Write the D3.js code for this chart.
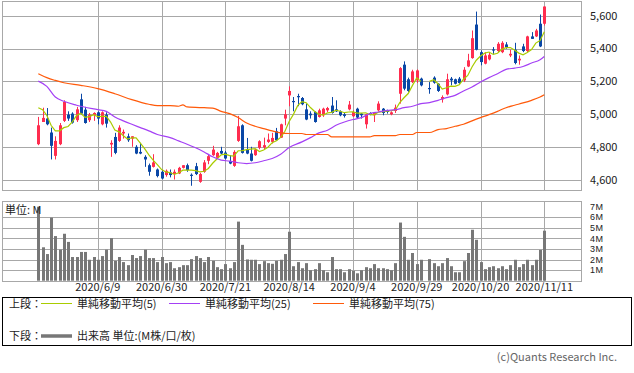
<!DOCTYPE html>
<html>
<head>
<meta charset="utf-8">
<script src="https://cdn.jsdelivr.net/npm/d3@7"></script>
<style>
  body { margin: 0; background: #fff; }
  svg { display: block; font-family: "Noto Sans CJK JP", "Noto Sans", sans-serif; }
</style>
</head>
<body>
<div id="chart"></div>
<script>
var width = 634,
    height = 373;

// daily OHLC (null = no trading, 2020/10/1)
const opens = [4818,4953,4974,4889,4747,4818,4960,4998,5004,4964, 5091,5028,4964,4994,5012,4939,4998,4816,4862,4838,
  4883,4866,4852,4802,4771,4741,4690,4680,4664,4650, 4630,4646,4636,4640,4674,4690,4632,4684,4589,4650,
  4717,4751,4735,4777,4767,4715,4686,4838,4933,4785, 4761,4751,4796,4798,4832,4832,4897,4858,4974,5115,
  5081,5111,5099,5030,5004,5014,4984,4994,5024,5053, 5030,5018,5000,5030,4988,5034,5004,4939,5008,4994,
  5024,5034,5024,5000,5020,5125,5302,5213,5196,5206, 5217,null,5160,5223,5186,5091,5121,5217,5213,5217,
  5206,5291,5342,5546,5378,5308,5334,5395,5385,5378, 5425,5358,5393,5328,5413,5385,5474,5474,5551,5551];
const highs = [4984,5040,5038,4919,4866,4947,5085,5018,5012,5045, 5125,5045,5008,5012,5018,5018,5012,4842,4887,4933,
  4907,4883,4866,4812,4826,4751,4700,4757,4670,4660, 4664,4664,4664,4680,4690,4700,4640,4704,4644,4721,
  4757,4808,4771,4802,4777,4751,4781,4990,4939,4856, 4802,4789,4842,4858,4883,4887,4917,4943,5028,5170,
  5105,5125,5105,5065,5018,5018,5034,5040,5045,5105, 5085,5024,5008,5081,5024,5040,5008,5004,5012,5014,
  5079,5038,5028,5018,5059,5287,5322,5223,5271,5273, 5223,null,5196,5231,5190,5115,5247,5227,5217,5227,
  5287,5368,5510,5625,5389,5378,5378,5409,5439,5445, 5439,5393,5435,5358,5429,5478,5500,5520,5607,5656];
const lows = [4812,4953,4933,4725,4725,4812,4953,4960,4943,4953, 4998,4943,4953,4960,4939,4933,4919,4741,4757,4832,
  4852,4832,4802,4757,4757,4680,4626,4676,4616,4605, 4620,4616,4603,4636,4670,4650,4565,4630,4583,4644,
  4696,4747,4731,4757,4725,4696,4680,4832,4761,4757, 4713,4747,4787,4787,4826,4822,4838,4856,4933,5049,
  5018,5049,5055,4964,4974,4949,4980,4984,5014,5004, 5014,4988,4980,5024,4984,4974,4974,4913,4994,4953,
  5018,4994,5004,4994,5008,5065,5146,5136,5190,5190, 5170,null,5125,5186,5136,5071,5115,5176,5182,5186,
  5196,5287,5338,5389,5298,5304,5328,5368,5378,5372, 5399,5348,5304,5302,5378,5378,5459,5470,5409,5540];
const closes = [4933,4978,4939,4808,4838,4933,5075,4974,4949,5030, 5004,4947,4998,5008,4974,5012,4943,4826,4765,4919,
  4893,4842,4866,4761,4761,4725,4650,4707,4624,4609, 4656,4630,4650,4674,4690,4660,4626,4636,4636,4707,
  4745,4785,4765,4761,4731,4700,4771,4927,4765,4761, 4717,4785,4836,4812,4846,4856,4842,4939,5000,5142,
  5075,5107,5061,4968,4994,4953,5024,5034,5038,5008, 5018,4994,4990,5059,5014,4980,4994,5000,5000,5008,
  5065,5008,5014,5012,5040,5281,5156,5142,5261,5267, 5176,null,5154,5192,5142,5105,5213,5206,5186,5190,
  5271,5328,5463,5393,5318,5358,5362,5391,5429,5435, 5409,5368,5312,5338,5385,5474,5459,5510,5413,5656];

// volume, millions
const volumes = [7.0,3.16,2.52,5.97,4.22,2.94,4.44,3.67,2.24,2.24, 2.72,2.72,1.98,2.24,1.98,2.33,2.94,4.03,1.88,2.24,
  1.76,1.47,2.43,2.14,2.33,2.94,2.14,2.14,1.76,2.24, 1.66,1.76,1.18,1.28,1.47,1.47,2.04,2.33,2.14,1.76,
  2.24,1.88,1.28,1.09,1.57,1.18,1.76,5.59,3.39,2.01, 1.98,1.98,1.57,1.85,1.66,1.60,1.88,1.98,2.52,4.63,
  1.37,1.76,1.18,1.66,0.99,1.09,1.66,0.99,0.80,2.24, 1.09,1.09,0.80,1.09,0.93,0.70,0.99,1.28,1.18,1.57,
  1.18,1.18,1.09,0.99,1.66,5.50,4.15,1.98,2.62,1.57, 1.98,null,2.04,1.66,1.37,1.66,2.14,1.37,0.80,0.80,
  1.85,2.62,4.82,3.87,1.76,1.09,1.28,1.37,1.18,1.37, 1.09,1.47,1.98,1.28,1.57,1.98,1.47,1.98,2.91,4.73];

// 5-day average before the window starts
const ma5Head = [5040, 5028, 4994, 4933];

// 25 / 75 day averages: [bar index, value]
const ma25Points = [[0,5202],[2,5170],[4,5105],[6,5079],[9,5055],[14,5028],[16,5018],[18,4984],[20,4960],[22,4939],
  [24,4919],[26,4899],[28,4877],[31,4858],[33,4838],[35,4818],[37,4796],[39,4771],[41,4741],[43,4721],
  [45,4715],[47,4705],[49,4700],[51,4705],[53,4717],[55,4731],[57,4757],[59,4798],[62,4832],[64,4858],
  [66,4887],[68,4903],[70,4933],[72,4953],[74,4968],[76,4980],[78,5004],[80,5014],[82,5024],[84,5028],
  [86,5040],[88,5049],[90,5065],[92,5071],[94,5085],[96,5101],[98,5115],[100,5142],[102,5166],[104,5196],
  [106,5223],[108,5247],[110,5273],[112,5281],[114,5291],[116,5312],[118,5332],[119,5352]];
const ma75Points = [[0,5247],[2,5223],[4,5206],[6,5192],[10,5176],[14,5156],[18,5125],[22,5089],[26,5061],[28,5053],
  [31,5053],[33,5049],[34,5057],[35,5045],[39,5040],[41,5038],[43,5018],[45,5004],[47,4980],[49,4947],
  [51,4927],[53,4913],[55,4899],[57,4887],[59,4883],[62,4883],[63,4877],[68,4877],[69,4862],[78,4862],
  [79,4870],[84,4870],[85,4877],[88,4877],[89,4889],[92,4889],[94,4907],[96,4913],[98,4927],[100,4939],
  [102,4960],[104,4980],[106,4998],[108,5018],[110,5040],[112,5055],[114,5069],[116,5085],[118,5105],[119,5119]];

const dateTicks = [14, 29, 44, 59, 74, 89, 104, 119];
const dateLabels = ["2020/6/9", "2020/6/30", "2020/7/21", "2020/8/14", "2020/9/4", "2020/9/29", "2020/10/20", "2020/11/11"];
const priceTicks = [4600, 4800, 5000, 5200, 5400, 5600];
const volTicks = [1, 2, 3, 4, 5, 6, 7];

const UP = "#ff2d4f", DOWN = "#0a47a6";
const GRID = "#a8a8a8";

var svg = d3.select("#chart").append("svg")
  .attr("width", width).attr("height", height);

var left = 2, right = 581;
var mainTop = 1, mainBottom = 190;
var volTop = 201, volBottom = 281;

var x = d3.scaleLinear().domain([0, 119]).range([38.3, 544.3]);
var y = d3.scaleLinear().domain([4600, 5600]).range([180, 15.7]);
var yv = d3.scaleLinear().domain([0, 7]).range([280.7, 206.7]);

var px = function(v) { return Math.round(v) + 0.5; };

// grids for both panels
function panelGrid(top, bottom, ys) {
  var g = svg.append("g").attr("stroke", GRID).attr("stroke-width", 1).attr("fill", "none");
  ys.forEach(function(v) {
    g.append("line").attr("x1", left).attr("x2", right).attr("y1", px(v)).attr("y2", px(v));
  });
  dateTicks.forEach(function(i) {
    g.append("line").attr("x1", px(x(i))).attr("x2", px(x(i))).attr("y1", top).attr("y2", bottom);
  });
  g.append("rect").attr("x", left + 0.5).attr("y", top + 0.5)
    .attr("width", right - left).attr("height", bottom - top);
}
panelGrid(mainTop, mainBottom, priceTicks.map(y));
panelGrid(volTop, volBottom, volTicks.filter(function(v) { return v < 7; }).map(yv));

// right axes
var fmt = d3.format(",");
svg.append("g").selectAll("text").data(priceTicks).join("text")
  .attr("x", 590).attr("y", function(d) { return y(d); })
  .attr("dy", "0.35em").attr("font-size", 11).attr("fill", "#222")
  .text(fmt);
// volume labels sit tight, so a compact font keeps them apart
svg.append("g").selectAll("text").data(volTicks).join("text")
  .attr("x", 590).attr("y", function(d) { return yv(d); })
  .attr("dy", "0.35em").attr("font-size", 9).attr("letter-spacing", 0.6)
  .attr("font-family", "'Liberation Sans', Arial, sans-serif").attr("fill", "#222")
  .text(function(d) { return d + "M"; });

// date labels
svg.append("g").selectAll("text").data(dateTicks).join("text")
  .attr("x", function(d) { return x(d); }).attr("y", 287)
  .attr("dy", "0.35em").attr("text-anchor", "middle")
  .attr("font-size", 11).attr("fill", "#222")
  .text(function(d, k) { return dateLabels[k]; });

// volume bars
svg.append("g").attr("fill", "#777").selectAll("rect")
  .data(volumes.map(function(v, i) { return {i: i, v: v}; }).filter(function(d) { return d.v != null; }))
  .join("rect")
  .attr("x", function(d) { return Math.round(x(d.i)) - 1; })
  .attr("width", 3)
  .attr("y", function(d) { return yv(d.v); })
  .attr("height", function(d) { return yv(0) - yv(d.v); });

svg.append("text").attr("x", 5).attr("y", 210).attr("dy", "0.35em")
  .attr("font-size", 11).attr("fill", "#222").text("単位: M");

// candles
var bars = d3.range(opens.length).filter(function(i) { return opens[i] != null; }).map(function(i) {
  return {i: i, o: opens[i], h: highs[i], l: lows[i], c: closes[i]};
});
var cg = svg.append("g");
cg.selectAll("line").data(bars).join("line")
  .attr("x1", function(d) { return px(x(d.i)); })
  .attr("x2", function(d) { return px(x(d.i)); })
  .attr("y1", function(d) { return y(d.h); })
  .attr("y2", function(d) { return y(d.l); })
  .attr("stroke", function(d) { return d.c >= d.o ? UP : DOWN; })
  .attr("stroke-width", 1);
cg.selectAll("rect").data(bars).join("rect")
  .attr("x", function(d) { return Math.round(x(d.i)) - 1; })
  .attr("width", 3)
  .attr("y", function(d) { return y(Math.max(d.o, d.c)); })
  .attr("height", function(d) { return Math.max(1.2, Math.abs(y(d.o) - y(d.c))); })
  .attr("fill", function(d) { return d.c >= d.o ? UP : DOWN; });

// 5-day moving average, from the closes (skipping the no-trade day)
var valid = [];
var ma5 = closes.map(function(c, i) {
  if (c == null) return null;
  valid.push(c);
  if (i < ma5Head.length) return ma5Head[i];
  return d3.mean(valid.slice(-5));
});

svg.append("clipPath").attr("id", "clipMain").append("rect")
  .attr("x", left + 1).attr("y", mainTop + 1).attr("width", right - left - 1).attr("height", mainBottom - mainTop - 1);
var lines = svg.append("g").attr("clip-path", "url(#clipMain)").attr("fill", "none");

var ma5Line = d3.line()
  .defined(function(d) { return d != null; })
  .x(function(d, i) { return x(i); })
  .y(function(d) { return y(d); });
lines.append("path").datum(ma5).attr("d", ma5Line)
  .attr("stroke", "#a9cc00").attr("stroke-width", 1.2);

var ptLine = d3.line()
  .x(function(d) { return x(d[0]); })
  .y(function(d) { return y(d[1]); })
  .curve(d3.curveMonotoneX);
lines.append("path").datum(ma25Points).attr("d", ptLine)
  .attr("stroke", "#a440f5").attr("stroke-width", 1.2);
lines.append("path").datum(ma75Points).attr("d", ptLine)
  .attr("stroke", "#ff5a0a").attr("stroke-width", 1.2);

// legend box
var lg = svg.append("g").attr("font-size", 11).attr("fill", "#222");
lg.append("rect").attr("x", 2.5).attr("y", 297.5).attr("width", 629).attr("height", 48)
  .attr("fill", "none").attr("stroke", "#000").attr("stroke-width", 1);

const legendItems = [
  {label: "単純移動平均(5)", color: "#a9cc00", x: 41},
  {label: "単純移動平均(25)", color: "#a440f5", x: 169},
  {label: "単純移動平均(75)", color: "#ff5a0a", x: 313}
];
lg.append("text").attr("x", 9).attr("y", 304).attr("dy", "0.35em").text("上段：");
legendItems.forEach(function(d) {
  lg.append("line").attr("x1", d.x).attr("x2", d.x + 31).attr("y1", 303.5).attr("y2", 303.5)
    .attr("stroke", d.color).attr("stroke-width", 1);
  lg.append("text").attr("x", d.x + 36).attr("y", 304).attr("dy", "0.35em").text(d.label);
});
lg.append("text").attr("x", 9).attr("y", 336).attr("dy", "0.35em").text("下段：");
lg.append("line").attr("x1", 41).attr("x2", 72).attr("y1", 336).attr("y2", 336)
  .attr("stroke", "#777").attr("stroke-width", 3.5);
lg.append("text").attr("x", 77).attr("y", 336).attr("dy", "0.35em").text("出来高 単位:(M株/口/枚)");

svg.append("text").attr("x", 617).attr("y", 357).attr("dy", "0.35em")
  .attr("text-anchor", "end").attr("font-size", 11).attr("fill", "#666")
  .text("(c)Quants Research Inc.");
</script>
</body>
</html>
